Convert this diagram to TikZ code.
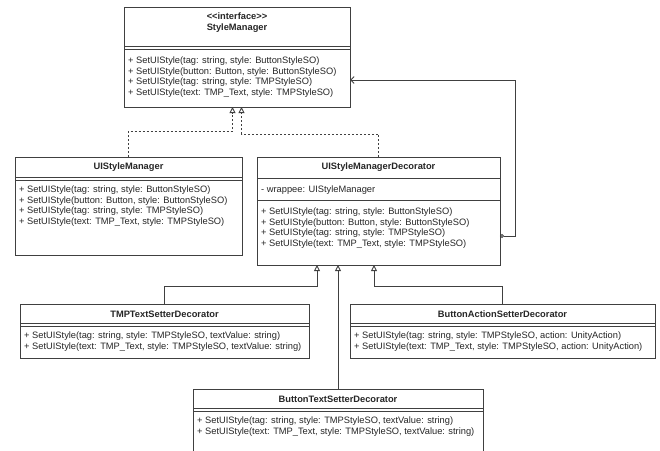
\documentclass[tikz,border=0pt]{standalone}
\usepackage{fontspec}
\setmainfont{Liberation Sans}
\usetikzlibrary{arrows.meta}
\begin{document}
\begin{tikzpicture}[x=1pt,y=-1pt,
  umlbox/.style={draw=black!75, line width=0.9pt, anchor=north west, inner sep=0pt, outer sep=0pt, fill=white},
  title/.style={font=\fontsize{9.3}{11}\selectfont\bfseries, text=black!85, align=center, inner sep=0pt},
  members/.style={font=\fontsize{9.3}{10.7}\selectfont, text=black!85, anchor=north west, align=left, inner sep=0pt},
  sep/.style={draw=black!75, line width=0.9pt},
  link/.style={draw=black!75, line width=0.9pt},
  realize/.style={link, dash pattern=on 2pt off 2pt, -{Triangle[open,length=6pt,width=6pt]}},
  inherit/.style={link, -{Triangle[open,length=6pt,width=6pt]}},
  aggr/.style={link, {Circle[open,length=4pt,width=4pt]}-{Straight Barb[length=3.5pt,width=7pt]}}
]
\useasboundingbox (0,0) rectangle (660,450);
\clip (0,0) rectangle (660,450);

% ---------------- interface StyleManager
\node[umlbox, minimum width=226pt, minimum height=100pt] (sm) at (124,7) {};
\node[title] (smT) at (237,23) {<{}<interface>{}>\\StyleManager};
\draw[sep] (sm.west |- 0,46) -- (sm.east |- 0,46);
\draw[sep] (sm.west |- 0,49) -- (sm.east |- 0,49);
\node[members] (smM) at (128,56.5) {+ SetUIStyle(tag: string, style: ButtonStyleSO)\\
+ SetUIStyle(button: Button, style: ButtonStyleSO)\\
+ SetUIStyle(tag: string, style: TMPStyleSO)\\
+ SetUIStyle(text: TMP\_Text, style: TMPStyleSO)};

% ---------------- UIStyleManager
\node[umlbox, minimum width=227pt, minimum height=98pt] (uism) at (15,157) {};
\node[title] (uismT) at (128.5,167) {UIStyleManager};
\draw[sep] (uism.west |- 0,177) -- (uism.east |- 0,177);
\draw[sep] (uism.west |- 0,180) -- (uism.east |- 0,180);
\node[members] (uismM) at (19,185.5) {+ SetUIStyle(tag: string, style: ButtonStyleSO)\\
+ SetUIStyle(button: Button, style: ButtonStyleSO)\\
+ SetUIStyle(tag: string, style: TMPStyleSO)\\
+ SetUIStyle(text: TMP\_Text, style: TMPStyleSO)};

% ---------------- UIStyleManagerDecorator
\node[umlbox, minimum width=243pt, minimum height=108pt] (uismd) at (257,157) {};
\node[title] (uismdT) at (378.5,167.5) {UIStyleManagerDecorator};
\draw[sep] (uismd.west |- 0,178) -- (uismd.east |- 0,178);
\node[members] (uismdA) at (261,185.5) {- wrappee: UIStyleManager};
\draw[sep] (uismd.west |- 0,200) -- (uismd.east |- 0,200);
\node[members] (uismdM) at (261,207.5) {+ SetUIStyle(tag: string, style: ButtonStyleSO)\\
+ SetUIStyle(button: Button, style: ButtonStyleSO)\\
+ SetUIStyle(tag: string, style: TMPStyleSO)\\
+ SetUIStyle(text: TMP\_Text, style: TMPStyleSO)};

% ---------------- TMPTextSetterDecorator
\node[umlbox, minimum width=289pt, minimum height=54pt] (tmp) at (20,304) {};
\node[title] (tmpT) at (164.5,314) {TMPTextSetterDecorator};
\draw[sep] (tmp.west |- 0,323) -- (tmp.east |- 0,323);
\draw[sep] (tmp.west |- 0,326) -- (tmp.east |- 0,326);
\node[members] (tmpM) at (24,331.5) {+ SetUIStyle(tag: string, style: TMPStyleSO, textValue: string)\\
+ SetUIStyle(text: TMP\_Text, style: TMPStyleSO, textValue: string)};

% ---------------- ButtonActionSetterDecorator
\node[umlbox, minimum width=305pt, minimum height=54pt] (bas) at (350,304) {};
\node[title] (basT) at (502.5,314) {ButtonActionSetterDecorator};
\draw[sep] (bas.west |- 0,323) -- (bas.east |- 0,323);
\draw[sep] (bas.west |- 0,326) -- (bas.east |- 0,326);
\node[members] (basM) at (354,331.5) {+ SetUIStyle(tag: string, style: TMPStyleSO, action: UnityAction)\\
+ SetUIStyle(text: TMP\_Text, style: TMPStyleSO, action: UnityAction)};

% ---------------- ButtonTextSetterDecorator
\node[umlbox, minimum width=290pt, minimum height=80pt] (bts) at (193,389) {};
\node[title] (btsT) at (338,399) {ButtonTextSetterDecorator};
\draw[sep] (bts.west |- 0,408) -- (bts.east |- 0,408);
\draw[sep] (bts.west |- 0,411) -- (bts.east |- 0,411);
\node[members] (btsM) at (197,416.5) {+ SetUIStyle(tag: string, style: TMPStyleSO, textValue: string)\\
+ SetUIStyle(text: TMP\_Text, style: TMPStyleSO, textValue: string)};

% ---------------- realizations of the interface
\coordinate (smL) at ([xshift=-4.5pt]sm.south);
\coordinate (smR) at ([xshift=4.5pt]sm.south);
\draw[realize] (uism.north) -- (uism.north |- 0,131) -| (smL);
\draw[realize] (uismd.north) -- (uismd.north |- 0,134) -| (smR);

% ---------------- decorators extend UIStyleManagerDecorator
\coordinate (dL) at (uismd.south -| 317,0);
\coordinate (dM) at (uismd.south -| 338,0);
\coordinate (dR) at (uismd.south -| 374,0);
\draw[inherit] (tmp.north) -- (tmp.north |- 0,286) -| (dL);
\draw[inherit] (bts.north) -- (dM);
\draw[inherit] (bas.north) -- (bas.north |- 0,286) -| (dR);

% ---------------- wrapped instance
\coordinate (aggS) at (uismd.east |- 0,236);
\coordinate (aggE) at (sm.east |- 0,80);
\draw[aggr] (aggS) -- (aggS -| 515,0) |- (aggE);
\end{tikzpicture}
\end{document}
